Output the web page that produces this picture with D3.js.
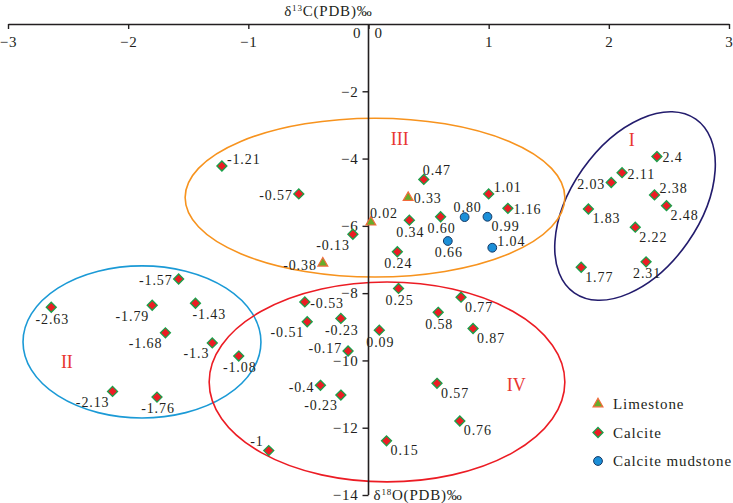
<!DOCTYPE html>
<html>
<head>
<meta charset="utf-8">
<script src="https://cdn.jsdelivr.net/npm/d3@7"></script>
<style>
  html, body { margin: 0; padding: 0; background: #fff; }
  svg text { font-family: "Liberation Serif", "Times New Roman", serif; fill: #231f20; }
</style>
</head>
<body>
<svg id="chart" width="733" height="503"></svg>
<script>
// Calcite samples: d13C, d18O, printed label, label placement
const calciteC = [2.40, 2.11, 2.02, 2.38, 2.48, 1.83, 2.22, 2.31, 1.77,
  -1.22, -0.58, 0.46, 1.00, 1.16, 0.34, 0.60, -0.13, 0.24,
  -2.64, -1.58, -1.80, -1.44, -1.69, -1.30, -1.08, -2.13, -1.76,
  0.25, 0.77, -0.53, 0.58, -0.51, -0.23, 0.87, 0.09, -0.17, -0.40, 0.57, -0.23, 0.76, 0.15, -0.83];
const calciteO = [-3.94, -4.42, -4.71, -5.08, -5.40, -5.50, -6.04, -7.07, -7.23,
  -4.22, -5.05, -4.62, -5.05, -5.48, -5.83, -5.73, -6.25, -6.77,
  -8.42, -7.58, -8.36, -8.30, -9.18, -9.48, -9.87, -10.92, -11.09,
  -7.86, -8.12, -8.26, -8.57, -8.85, -8.75, -9.05, -9.10, -9.72, -10.74, -10.68, -11.03, -11.80, -12.39, -12.68];
const calciteLabels = ["2.4", "2.11", "2.03", "2.38", "2.48", "1.83", "2.22", "2.31", "1.77",
  "-1.21", "-0.57", "0.47", "1.01", "1.16", "0.34", "0.60", "-0.13", "0.24",
  "-2.63", "-1.57", "-1.79", "-1.43", "-1.68", "-1.3", "-1.08", "-2.13", "-1.76",
  "0.25", "0.77", "-0.53", "0.58", "-0.51", "-0.23", "0.87", "0.09", "-0.17", "-0.4", "0.57", "-0.23", "0.76", "0.15", "-1"];
const calciteSide = ["r", "r", "l", "tr", "br", "br", "br", "b", "br",
  "tr", "l", "ts", "tr", "r", "b", "b", "bl", "b",
  "b", "l", "bl", "bs", "bl", "bl", "b", "bl", "b",
  "b", "br", "r", "b", "bl", "b", "br", "b", "lu", "l", "br", "bl", "br", "br", "tl"];

// Limestone samples
const limestoneC = [0.33, 0.02, -0.38];
const limestoneO = [-5.16, -5.89, -7.11];
const limestoneLabels = ["0.33", "0.02", "-0.38"];
const limestoneSide = ["r", "ts", "l"];

// Calcite mudstone samples
const mudstoneC = [0.80, 0.99, 0.66, 1.03];
const mudstoneO = [-5.74, -5.73, -6.45, -6.65];
const mudstoneLabels = ["0.80", "0.99", "0.66", "1.04"];
const mudstoneSide = ["t", "br", "b", "tr"];

// Axis ticks
const xTicks = [-3, -2, -1, 0, 1, 2, 3];
const yTicks = [-2, -4, -6, -8, -10, -12, -14];

// Grouping zones (data units)
const zoneNames = ["I", "II", "III", "IV"];
const zoneCenterC = [2.218, -1.885, 0.054, 0.154];
const zoneCenterO = [-5.41, -9.45, -5.16, -10.64];
const zoneRadiusC = [0.533, 0.99, 1.58, 1.48];
const zoneRadiusO = [3.15, 2.26, 2.36, 2.97];
const zoneLabelC = [2.19, -2.51, 0.26, 1.23];
const zoneLabelO = [-3.45, -10.03, -3.40, -10.73];

const svg = d3.select("#chart");

const x = d3.scaleLinear().domain([-3, 3]).range([8, 729]);
const y = d3.scaleLinear().domain([0, -14]).range([24, 495]);

const zoneColors = ["#231c6d", "#1b9ad6", "#f7931e", "#ec1c24"];
const zoneTilt = [35, 0, 0, 0];

// Ellipses
const zones = svg.append("g");
zoneNames.forEach((name, i) => {
  const cx = x(zoneCenterC[i]), cy = y(zoneCenterO[i]);
  zones.append("ellipse")
    .attr("cx", cx)
    .attr("cy", cy)
    .attr("rx", x(zoneRadiusC[i]) - x(0))
    .attr("ry", y(-zoneRadiusO[i]) - y(0))
    .attr("transform", `rotate(${zoneTilt[i]},${cx},${cy})`)
    .attr("fill", "none")
    .attr("stroke", zoneColors[i])
    .attr("stroke-width", 1.6);
  zones.append("text")
    .attr("x", x(zoneLabelC[i]))
    .attr("y", y(zoneLabelO[i]))
    .attr("dy", "0.35em")
    .attr("text-anchor", "middle")
    .attr("font-size", "18px")
    .style("fill", "#e8342f")
    .text(name);
});

// Axes
const xAxis = svg.append("g")
  .attr("transform", `translate(0,${y(0)})`)
  .call(d3.axisBottom(x).tickValues(xTicks).tickFormat(d3.format("d"))
    .tickSize(5).tickSizeOuter(0).tickPadding(7));
const yAxis = svg.append("g")
  .attr("transform", `translate(${x(0)},0)`)
  .call(d3.axisLeft(y).tickValues(yTicks).tickFormat(d3.format("d"))
    .tickSize(6).tickSizeOuter(0).tickPadding(4));

[xAxis, yAxis].forEach(a => {
  a.select(".domain").attr("stroke", "#231f20").attr("stroke-width", 1.6);
  a.selectAll(".tick line").attr("stroke", "#231f20").attr("stroke-width", 1.4);
  a.selectAll(".tick text")
    .attr("font-family", null)
    .attr("font-size", "15px")
    .style("letter-spacing", "0.8px")
    .style("fill", "#231f20");
});
yAxis.select(".domain").attr("d", `M0,${y(0)}V${y(-14)}`);
xAxis.selectAll(".tick").filter(d => d === 0).select("text").remove();

// the two zeros next to the origin
svg.append("text").attr("x", x(0) - 8).attr("y", y(0) + 9).attr("dy", "0.35em")
  .attr("text-anchor", "end").attr("font-size", "15px").text("0");
svg.append("text").attr("x", x(0) + 6).attr("y", y(0) + 9).attr("dy", "0.35em")
  .attr("font-size", "15px").text("0");

// Axis titles
const topTitle = svg.append("text")
  .attr("x", x(0) + 4).attr("y", 16)
  .attr("text-anchor", "end")
  .attr("font-size", "15px")
  .style("letter-spacing", "0.8px");
topTitle.append("tspan").text("δ");
topTitle.append("tspan").attr("font-size", "9px").attr("dy", "-5").text("13");
topTitle.append("tspan").attr("dy", "5").text("C(PDB)‰");

const bottomTitle = svg.append("text")
  .attr("x", x(0) + 5).attr("y", y(-14))
  .attr("dy", "0.35em")
  .attr("font-size", "15px")
  .style("letter-spacing", "0.8px");
bottomTitle.append("tspan").text("δ");
bottomTitle.append("tspan").attr("font-size", "9px").attr("dy", "-5").text("18");
bottomTitle.append("tspan").attr("dy", "5").text("O(PDB)‰");

// Markers
const diamond = "M0,-5L5,0L0,5L-5,0Z";
const triangle = d3.symbol(d3.symbolTriangle, 42)();

function drawMarker(g, kind) {
  if (kind === "calcite") {
    g.append("path").attr("d", diamond)
      .attr("fill", "#ec1c24").attr("stroke", "#1aa04a").attr("stroke-width", 1.3);
  } else if (kind === "limestone") {
    g.append("path").attr("d", triangle)
      .attr("fill", "#66ac2a").attr("stroke", "#f26a3a").attr("stroke-width", 1.2);
  } else {
    g.append("circle").attr("r", 4.4)
      .attr("fill", "#1b8fd8").attr("stroke", "#163a66").attr("stroke-width", 1);
  }
}

// label placement: [anchor, dx, dy]
const placement = {
  r: ["start", 5.5, 1], l: ["end", -6, 1.5], lu: ["end", -6, -2.5],
  t: ["middle", 3, -10], b: ["middle", 1, 11.5],
  tr: ["start", 5, -7], ts: ["start", -1, -9.5], tl: ["end", -5, -9],
  br: ["start", 4, 9.5], bs: ["start", -3, 11], bl: ["end", -3, 10.5]
};

function drawSet(cs, os, labels, sides, kind) {
  const pts = cs.map((c, i) => ({ c: c, o: os[i], label: labels[i], side: sides[i] }));
  const g = svg.append("g");
  pts.forEach(p => {
    const px = x(p.c), py = y(p.o);
    const m = g.append("g").attr("transform", `translate(${px},${py})`);
    drawMarker(m, kind);
    const pl = placement[p.side];
    g.append("text")
      .attr("x", px + pl[1])
      .attr("y", py + pl[2])
      .attr("dy", "0.35em")
      .attr("text-anchor", pl[0])
      .attr("font-size", "14px")
      .style("letter-spacing", "0.9px")
      .text(p.label);
  });
}

drawSet(calciteC, calciteO, calciteLabels, calciteSide, "calcite");
drawSet(mudstoneC, mudstoneO, mudstoneLabels, mudstoneSide, "mudstone");
drawSet(limestoneC, limestoneO, limestoneLabels, limestoneSide, "limestone");

// Legend
const legendNames = ["Limestone", "Calcite", "Calcite mudstone"];
const legendKinds = ["limestone", "calcite", "mudstone"];
const legend = svg.append("g").attr("transform", "translate(598,404)");
legendNames.forEach((name, i) => {
  const row = legend.append("g").attr("transform", `translate(0,${i * 28.5})`);
  drawMarker(row, legendKinds[i]);
  row.append("text")
    .attr("x", 15)
    .attr("dy", "0.35em")
    .attr("font-size", "15px")
    .style("letter-spacing", "0.9px")
    .text(name);
});
</script>
</body>
</html>
